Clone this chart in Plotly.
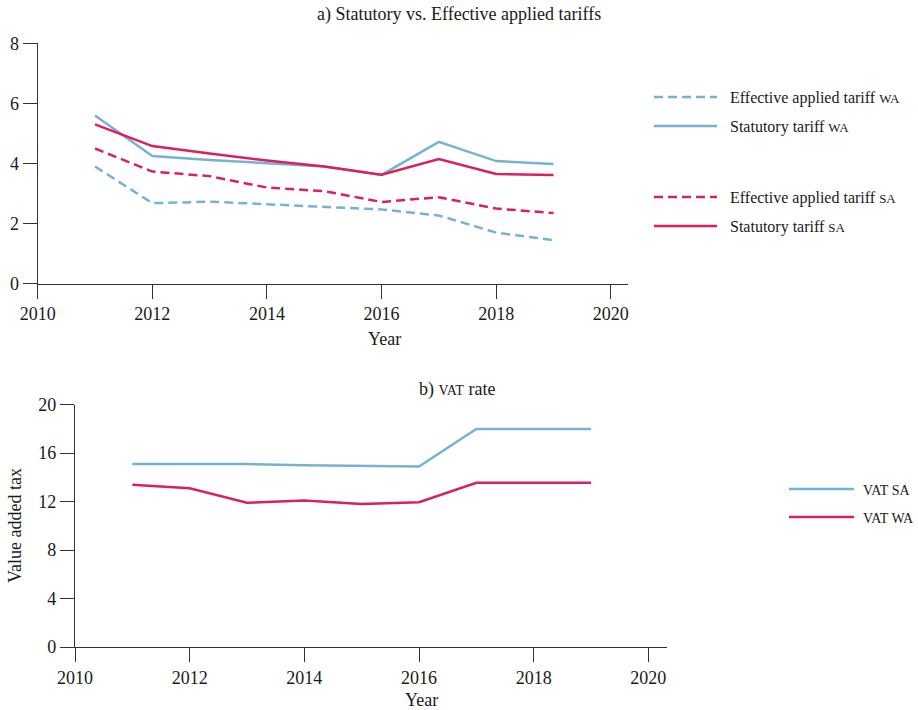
import plotly.graph_objects as go

# ---- data -------------------------------------------------------------
years = [2011, 2012, 2013, 2014, 2015, 2016, 2017, 2018, 2019]

effective_wa = [3.90, 2.68, 2.73, 2.65, 2.56, 2.47, 2.27, 1.70, 1.45]
statutory_wa = [5.60, 4.25, 4.12, 4.02, 3.90, 3.62, 4.72, 4.08, 3.98]
effective_sa = [4.50, 3.73, 3.58, 3.20, 3.08, 2.72, 2.88, 2.50, 2.35]
statutory_sa = [5.30, 4.58, 4.33, 4.10, 3.90, 3.63, 4.15, 3.65, 3.62]

vat_sa = [15.1, 15.1, 15.1, 15.0, 14.95, 14.9, 18.0, 18.0, 18.0]
vat_wa = [13.4, 13.1, 11.9, 12.1, 11.8, 11.95, 13.55, 13.55, 13.55]

x_ticks = [2010, 2012, 2014, 2016, 2018, 2020]
top_y_ticks = [0, 2, 4, 6, 8]
bottom_y_ticks = [0, 4, 8, 12, 16, 20]

# ---- styling ----------------------------------------------------------
W, H = 918, 710
BLUE = "#76b3d3"
RED = "#dc1f5d"
FONT = "Liberation Serif"
TEXT = "#1a1a1a"
AXIS = "#333333"
DASH = "9px,5px"
GAP = "\u00a0\u00a0"


def sc(s, size=13):
    """Small-caps style abbreviation."""
    return f'<span style="font-size:{size}px">{s}</span>'


def px_x(p):
    return p / W


def px_y(p):
    return 1 - p / H


fig = go.Figure()

series_top = [
    ("Effective applied tariff " + sc("WA"), effective_wa, BLUE, DASH, "legend2"),
    ("Statutory tariff " + sc("WA"), statutory_wa, BLUE, "solid", "legend3"),
    ("Effective applied tariff " + sc("SA"), effective_sa, RED, DASH, "legend4"),
    ("Statutory tariff " + sc("SA"), statutory_sa, RED, "solid", "legend5"),
]
for name, vals, col, dash, leg in series_top:
    fig.add_trace(go.Scatter(
        x=years, y=vals, mode="lines", name=GAP + name,
        line=dict(color=col, width=2.5, dash=dash),
        xaxis="x", yaxis="y", legend=leg, showlegend=True,
    ))

series_bottom = [
    (sc("VAT SA", 14), vat_sa, BLUE, "legend6"),
    (sc("VAT WA", 14), vat_wa, RED, "legend7"),
]
for name, vals, col, leg in series_bottom:
    fig.add_trace(go.Scatter(
        x=years, y=vals, mode="lines", name="\u00a0" + name,
        line=dict(color=col, width=2.5),
        xaxis="x2", yaxis="y2", legend=leg, showlegend=True,
    ))

axis_common = dict(
    showgrid=False, zeroline=False, showline=True, linecolor=AXIS,
    linewidth=1.3, ticks="outside", ticklen=14, tickwidth=1.3,
    tickcolor=AXIS, tickfont=dict(family=FONT, size=18, color=TEXT),
    automargin=False,
)

fig.update_layout(
    width=W, height=H,
    margin=dict(l=0, r=0, t=0, b=0, autoexpand=False),
    paper_bgcolor="white", plot_bgcolor="white",
    showlegend=True,
    font=dict(family=FONT, size=16, color=TEXT),
    xaxis=dict(axis_common, domain=[px_x(37.7), px_x(628)], range=[2010, 2020.3],
               tickvals=x_ticks, anchor="y"),
    yaxis=dict(axis_common, domain=[px_y(283.7), px_y(43.3)], range=[0, 8],
               tickvals=top_y_ticks, anchor="x"),
    xaxis2=dict(axis_common, domain=[px_x(75), px_x(666.7)], range=[2010, 2020.32],
                tickvals=x_ticks, anchor="y2"),
    yaxis2=dict(axis_common, domain=[px_y(647), px_y(404.7)], range=[0, 20],
                tickvals=bottom_y_ticks, anchor="x2"),
)

# one legend per entry so each row sits where it belongs
legend_rows = [
    ("legend2", 649, 97, 63), ("legend3", 649, 126, 63),
    ("legend4", 649, 197, 63), ("legend5", 649, 226, 63),
    ("legend6", 784, 489, 65), ("legend7", 784, 517, 65),
]
for key, lx, ly, iw in legend_rows:
    fig.update_layout({key: dict(
        x=px_x(lx), y=px_y(ly), xanchor="left", yanchor="middle",
        bgcolor="rgba(0,0,0,0)", borderwidth=0, itemwidth=iw,
        font=dict(family=FONT, size=16, color=TEXT),
    )})

annotations = [
    dict(text="a) Statutory vs. Effective applied tariffs", x=0.5, y=px_y(15)),
    dict(text="b) " + sc("VAT", 14) + " rate", x=px_x(457), y=px_y(389)),
    dict(text="Year", x=px_x(384), y=px_y(339)),
    dict(text="Year", x=px_x(421), y=px_y(700)),
]
for a in annotations:
    fig.add_annotation(text=a["text"], x=a["x"], y=a["y"], xref="paper", yref="paper",
                       xanchor="center", yanchor="middle", showarrow=False,
                       font=dict(family=FONT, size=18, color=TEXT))

fig.add_annotation(text="Value added tax", x=px_x(15), y=px_y(526), xref="paper",
                   yref="paper", textangle=-90, showarrow=False,
                   xanchor="center", yanchor="middle",
                   font=dict(family=FONT, size=18, color=TEXT))

fig.write_html("out.html")
